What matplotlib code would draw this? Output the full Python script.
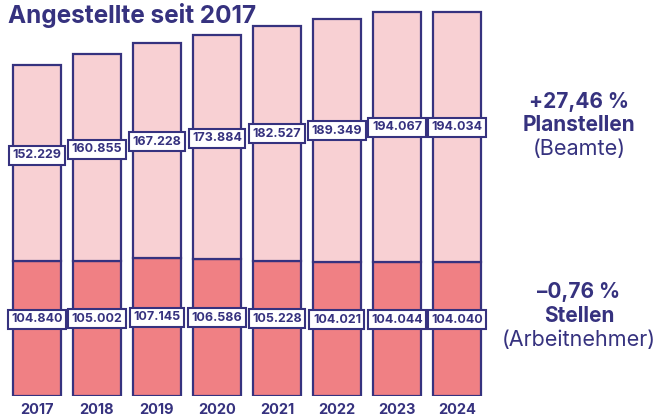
import numpy as np
import matplotlib.pyplot as plt

# Daten
years = ['2017', '2018', '2019', '2020', '2021', '2022', '2023', '2024']
planstellen = [152229, 160855, 167228, 173884, 182527, 189349, 194067, 194034]
stellen = [104840, 105002, 107145, 106586, 105228, 104021, 104044, 104040]


def fmt(v):
    return f'{v:,}'.replace(',', '.')


navy = '#36327f'
pink_dark = '#f08084'
pink_light = '#f8d0d3'

plt.rcParams['font.family'] = ['Inter', 'DejaVu Sans']

fig = plt.figure(figsize=(6.58, 4.19), dpi=100)
ax = fig.add_axes([7 / 658, 23 / 419, 480 / 658, 386 / 419])

x = np.arange(len(years))
ax.bar(x, stellen, width=0.8, color=pink_dark, edgecolor=navy, linewidth=1.6)
ax.bar(x, planstellen, bottom=stellen, width=0.8, color=pink_light,
       edgecolor=navy, linewidth=1.6)
ax.set_xlim(-0.5, 7.5)
ax.set_ylim(0, 300000)
ax.axis('off')

box = dict(boxstyle='square,pad=0.28', fc='white', ec=navy, lw=1.5)
for i in x:
    ax.text(i, stellen[i] * 0.57, fmt(stellen[i]), ha='center', va='center',
            fontsize=9, fontweight='bold', color=navy, bbox=box)
    ax.text(i, stellen[i] + planstellen[i] * 0.54, fmt(planstellen[i]),
            ha='center', va='center', fontsize=9, fontweight='bold',
            color=navy, bbox=box)
    ax.text(i, -0.036, years[i], transform=ax.get_xaxis_transform(),
            ha='center', va='center', fontsize=10.5, fontweight='bold',
            color=navy)

# Titel
fig.text(8 / 658, 1 - 15 / 419, 'Angestellte seit 2017', ha='left',
         va='center', fontsize=17.5, fontweight='bold', color=navy)

# Rechte Beschriftung
cx = 579 / 658
fig.text(cx, 1 - 102 / 419, '+27,46 %', ha='center', va='center',
         fontsize=15, fontweight='bold', color=navy)
fig.text(cx, 1 - 125 / 419, 'Planstellen', ha='center', va='center',
         fontsize=15, fontweight='bold', color=navy)
fig.text(cx, 1 - 149 / 419, '(Beamte)', ha='center', va='center',
         fontsize=15.5, color=navy)
fig.text(cx, 1 - 292 / 419, '\u20130,76 %', ha='center', va='center',
         fontsize=15, fontweight='bold', color=navy)
fig.text(cx, 1 - 316 / 419, 'Stellen', ha='center', va='center',
         fontsize=15, fontweight='bold', color=navy)
fig.text(cx, 1 - 340 / 419, '(Arbeitnehmer)', ha='center', va='center',
         fontsize=15.5, color=navy)

fig.savefig('out.png', dpi=100)
